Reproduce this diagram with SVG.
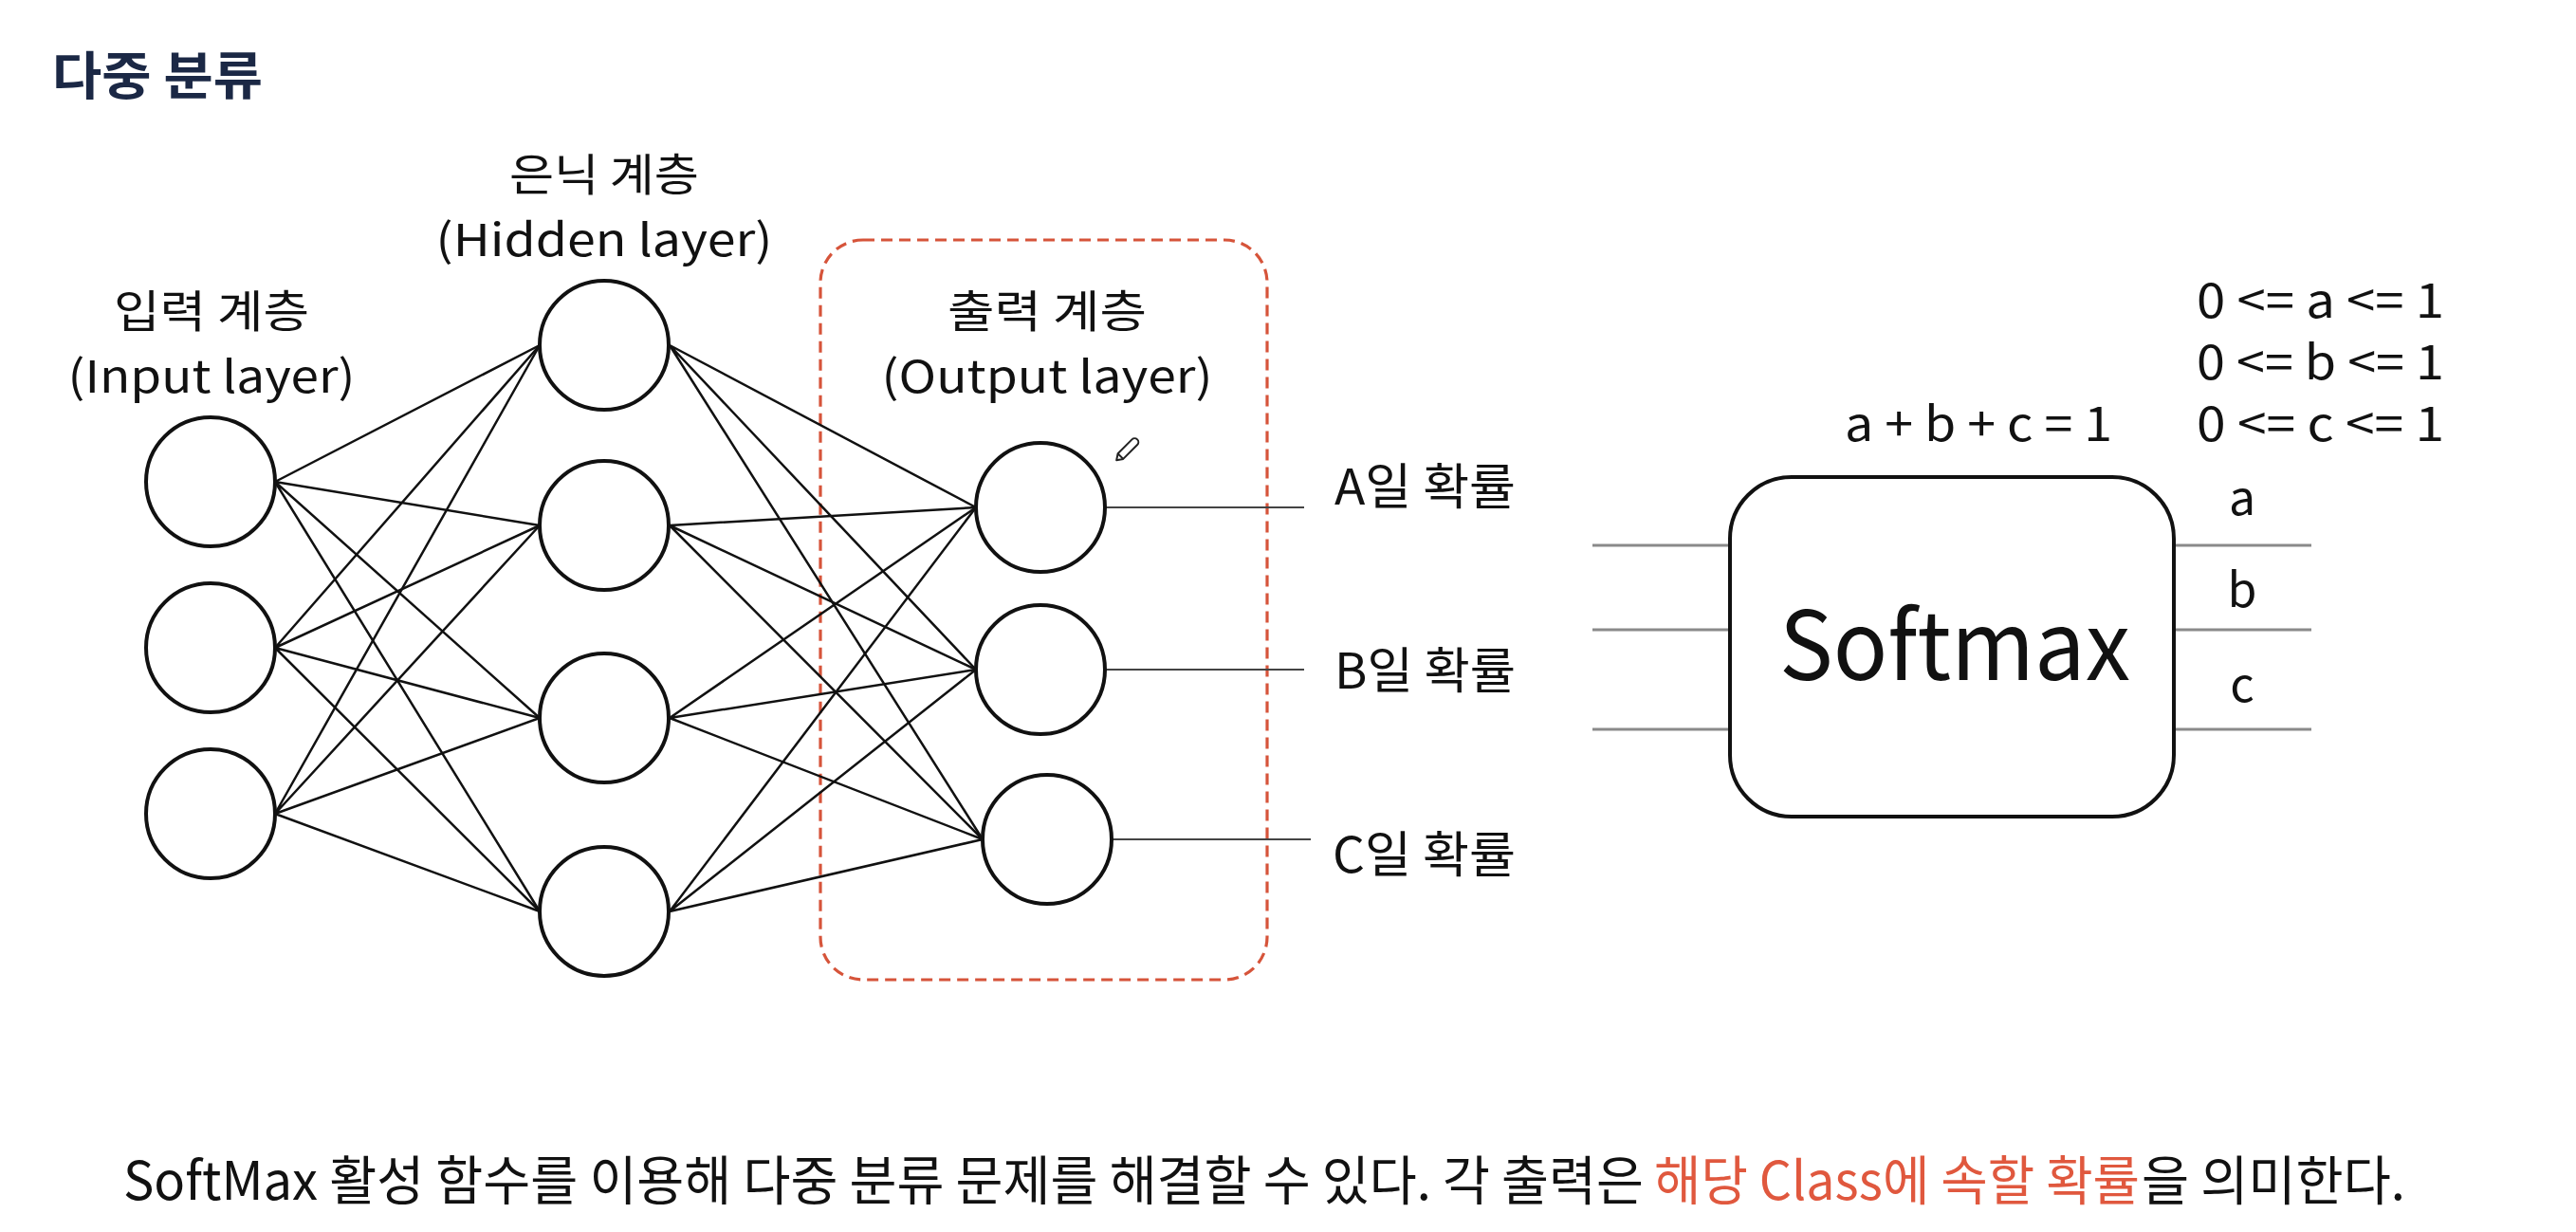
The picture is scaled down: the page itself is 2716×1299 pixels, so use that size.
<svg xmlns="http://www.w3.org/2000/svg" width="2716" height="1299" viewBox="0 0 2716 1299">
<style>
  text { font-family: "Noto Sans CJK KR", "Noto Sans", sans-serif; fill: #111; }
  .title { font-size: 54px; font-weight: 700; fill: #1b2845; }
  .lbl { font-size: 47px; }
  .prob { font-size: 52px; }
  .eq { font-size: 50px; }
  .big { font-size: 100px; }
  .body { font-size: 56px; }
  .red { fill: #e0583e; }
  .node { fill: #fff; stroke: #111; stroke-width: 4; }
  .edge { stroke: #111; stroke-width: 2.5; fill: none; }
  .out { stroke: #444; stroke-width: 1.8; fill: none; }
  .gray { stroke: #8a8a8a; stroke-width: 3; fill: none; }
  .dash { fill: none; stroke: #d6543a; stroke-width: 3.2; stroke-dasharray: 12 7; }
</style>

<text class="title" x="55" y="100" textLength="222" lengthAdjust="spacingAndGlyphs">다중 분류</text>

<g id="labels">
  <text class="lbl" x="637" y="201" text-anchor="middle" textLength="200" lengthAdjust="spacingAndGlyphs">은닉 계층</text>
  <text class="lbl" x="637" y="270" text-anchor="middle" textLength="355" lengthAdjust="spacingAndGlyphs">(Hidden layer)</text>
  <text class="lbl" x="223" y="345" text-anchor="middle" textLength="206" lengthAdjust="spacingAndGlyphs">입력 계층</text>
  <text class="lbl" x="223" y="414" text-anchor="middle" textLength="303" lengthAdjust="spacingAndGlyphs">(Input layer)</text>
  <text class="lbl" x="1104" y="345" text-anchor="middle" textLength="210" lengthAdjust="spacingAndGlyphs">출력 계층</text>
  <text class="lbl" x="1104" y="414" text-anchor="middle" textLength="349" lengthAdjust="spacingAndGlyphs">(Output layer)</text>
</g>

<rect id="output-box" class="dash" x="865" y="253" width="471" height="780" rx="45" ry="45"/>

<g id="connectors">
  <!-- input -> hidden -->
  <path class="edge" d="M290 508 L569 364 M290 508 L569 554 M290 508 L569 757 M290 508 L569 961"/>
  <path class="edge" d="M290 683 L569 364 M290 683 L569 554 M290 683 L569 757 M290 683 L569 961"/>
  <path class="edge" d="M290 858 L569 364 M290 858 L569 554 M290 858 L569 757 M290 858 L569 961"/>
  <!-- hidden -> output -->
  <path class="edge" d="M706 364 L1029 535 M706 364 L1029 706 M706 364 L1036 885"/>
  <path class="edge" d="M706 554 L1029 535 M706 554 L1029 706 M706 554 L1036 885"/>
  <path class="edge" d="M706 757 L1029 535 M706 757 L1029 706 M706 757 L1036 885"/>
  <path class="edge" d="M706 961 L1029 535 M706 961 L1029 706 M706 961 L1036 885"/>
  <!-- output lines -->
  <path class="out" d="M1166 535 L1375 535 M1166 706 L1375 706 M1172 885 L1382 885"/>
  <!-- softmax in/out -->
  <path class="gray" d="M1679 575 L1824 575 M1679 664 L1824 664 M1679 769 L1824 769"/>
  <path class="gray" d="M2292 575 L2437 575 M2292 664 L2437 664 M2292 769 L2437 769"/>
</g>

<g id="input-nodes">
  <circle id="in1" class="node" cx="222" cy="508" r="68"/>
  <circle id="in2" class="node" cx="222" cy="683" r="68"/>
  <circle id="in3" class="node" cx="222" cy="858" r="68"/>
</g>
<g id="hidden-nodes">
  <circle id="h1" class="node" cx="637" cy="364" r="68"/>
  <circle id="h2" class="node" cx="637" cy="554" r="68"/>
  <circle id="h3" class="node" cx="637" cy="757" r="68"/>
  <circle id="h4" class="node" cx="637" cy="961" r="68"/>
</g>
<g id="output-nodes">
  <circle id="oA" class="node" cx="1097" cy="535" r="68"/>
  <circle id="oB" class="node" cx="1097" cy="706" r="68"/>
  <circle id="oC" class="node" cx="1104" cy="885" r="68"/>
</g>

<g id="pencil" transform="translate(1188.5 474) rotate(-45)">
  <path d="M-16 0 L-10 -4 L11 -4 A4 4 0 0 1 11 4 L-10 4 Z M-10 -4 L-10 4" fill="#fff" stroke="#222" stroke-width="2" stroke-linejoin="round"/>
</g>

<g id="prob-labels">
  <text class="prob" x="1407" y="532" textLength="191" lengthAdjust="spacingAndGlyphs">A일 확률</text>
  <text class="prob" x="1407" y="726" textLength="191" lengthAdjust="spacingAndGlyphs">B일 확률</text>
  <text class="prob" x="1405" y="920" textLength="193" lengthAdjust="spacingAndGlyphs">C일 확률</text>
</g>

<g id="softmax">
  <rect class="node" x="1824" y="503" width="468" height="358" rx="65" ry="65"/>
  <text class="big" x="2061" y="717" text-anchor="middle" textLength="370" lengthAdjust="spacingAndGlyphs">Softmax</text>
</g>

<g id="softmax-labels">
  <text class="eq" x="2364" y="543" text-anchor="middle">a</text>
  <text class="eq" x="2364" y="640" text-anchor="middle">b</text>
  <text class="eq" x="2364" y="740" text-anchor="middle">c</text>
  <text class="eq" x="1945" y="465" textLength="282" lengthAdjust="spacingAndGlyphs">a + b + c = 1</text>
  <text class="eq" x="2316" y="335" textLength="261" lengthAdjust="spacingAndGlyphs">0 &lt;= a &lt;= 1</text>
  <text class="eq" x="2316" y="400" textLength="261" lengthAdjust="spacingAndGlyphs">0 &lt;= b &lt;= 1</text>
  <text class="eq" x="2316" y="465" textLength="261" lengthAdjust="spacingAndGlyphs">0 &lt;= c &lt;= 1</text>
</g>

<g id="caption">
  <text class="body" x="130" y="1265" textLength="1603" lengthAdjust="spacingAndGlyphs">SoftMax 활성 함수를 이용해 다중 분류 문제를 해결할 수 있다. 각 출력은</text>
  <text class="body red" x="1744" y="1265" textLength="512" lengthAdjust="spacingAndGlyphs">해당 Class에 속할 확률</text>
  <text class="body" x="2258" y="1265" textLength="278" lengthAdjust="spacingAndGlyphs">을 의미한다.</text>
</g>
</svg>
